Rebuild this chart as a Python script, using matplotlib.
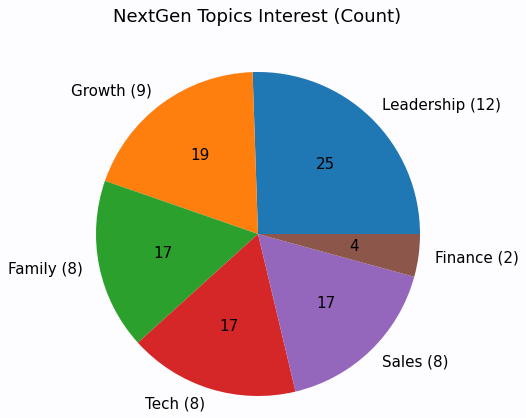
import matplotlib
matplotlib.use("Agg")
import matplotlib.pyplot as plt

categories = ["Leadership", "Growth", "Family", "Tech", "Sales", "Finance"]
counts = [12, 9, 8, 8, 8, 2]
labels = [f"{c} ({n})" for c, n in zip(categories, counts)]

bg = "#fdfcff"
fig = plt.figure(figsize=(5.26, 4.18), dpi=100, facecolor=bg)
half = 162 * 1.25
ax = fig.add_axes([(258 - half)/526, (184 - half)/418, 2*half/526, 2*half/418])
ax.set_facecolor(bg)
ax.pie(counts, labels=labels, autopct=lambda p: f"{int(p)}", startangle=0,
       textprops={"fontsize": 10.9})
ax.set_aspect("equal")
fig.text(257.5/526, 1 - 17/418, "NextGen Topics Interest (Count)", ha="center", va="center", fontsize=13.1)
fig.savefig("out.png", dpi=100, facecolor=bg)
